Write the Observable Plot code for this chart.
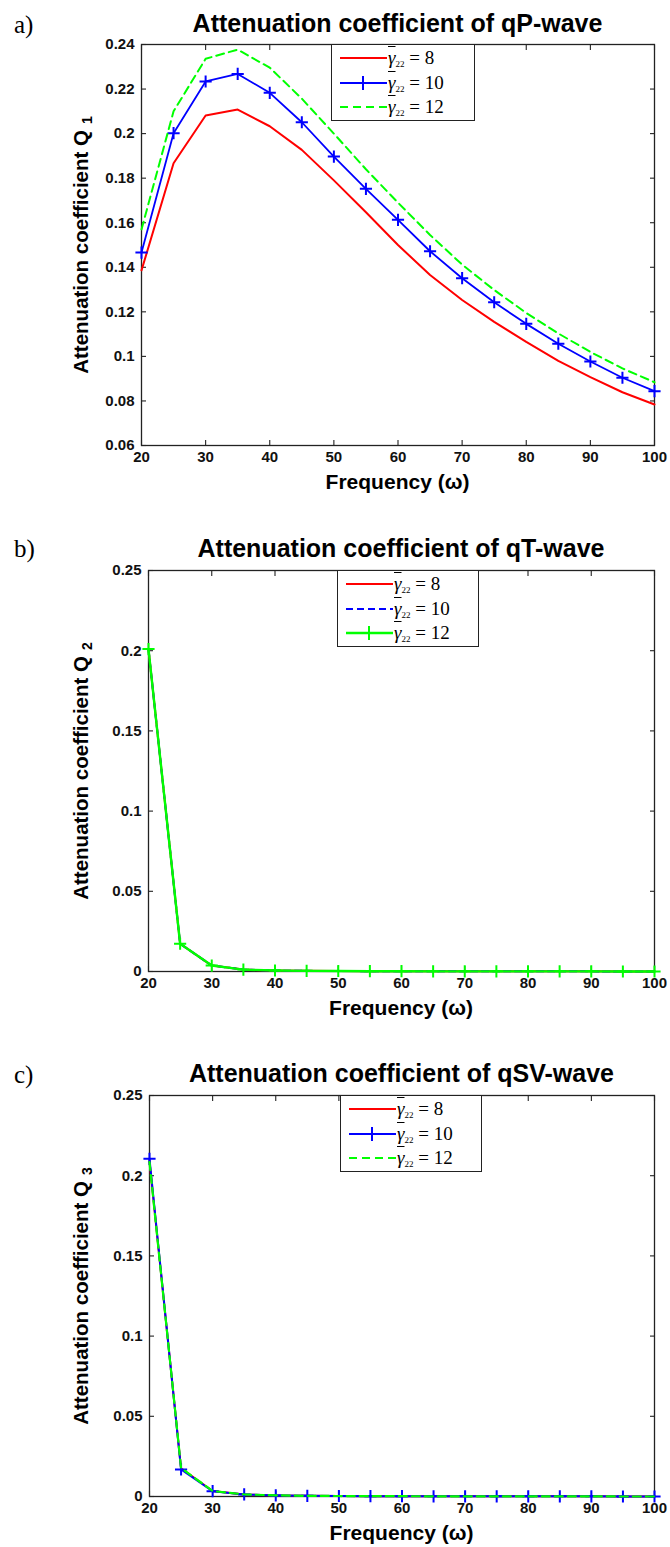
<!DOCTYPE html>
<html>
<head>
<meta charset="utf-8">
<script src="https://cdn.jsdelivr.net/npm/d3@7"></script>
<script src="https://cdn.jsdelivr.net/npm/@observablehq/plot@0.6"></script>
<style>
  html, body { margin:0; padding:0; background:#fff; }
  #root { position:relative; width:670px; height:1547px; overflow:hidden; background:#fff; font-family:"Liberation Sans", Arial, sans-serif; color:#000; }
  .abs { position:absolute; white-space:nowrap; }
  .title { font-weight:bold; font-size:25px; transform:translate(-50%,-50%); }
  .letter { font-family:"Liberation Serif", "Times New Roman", serif; font-size:25px; transform:translate(0,-50%); }
  .xlab { font-weight:bold; font-size:21px; transform:translate(-50%,-50%); }
  .ylab { font-weight:bold; font-size:20.5px; transform:translate(-50%,-50%) rotate(-90deg); }
  .ylab sub { font-size:14px; margin-left:6px; vertical-align:-4px; }
  .legend { border:1px solid #222; background:#fff; box-sizing:border-box; }
  .legend .row { position:absolute; left:0; transform:translateY(-50%); display:flex; align-items:center; }
  .legend .txt { font-family:"Liberation Serif", "DejaVu Serif", serif; font-size:19px; }
  .legend .g { text-decoration:overline; font-style:italic; }
  .legend sub { font-size:9px; vertical-align:-3px; }
</style>
</head>
<body>
<div id="root"></div>
<script>
// ---------------- data ----------------
const frequency = [20, 25, 30, 35, 40, 45, 50, 55, 60, 65, 70, 75, 80, 85, 90, 95, 100];
const gammaValues = ["8", "10", "12"];
const panelLetters = ["a)", "b)", "c)"];
const panelTitles = ["Attenuation coefficient of qP-wave", "Attenuation coefficient of qT-wave", "Attenuation coefficient of qSV-wave"];
const yAxisLabel = "Attenuation coefficient Q";
const yAxisSubs = ["1", "2", "3"];
const xAxisLabel = "Frequency (\u03c9)";
const xTicks = [20, 30, 40, 50, 60, 70, 80, 90, 100];
const yTicksA = [0.06, 0.08, 0.1, 0.12, 0.14, 0.16, 0.18, 0.2, 0.22, 0.24];
const yTicksBC = [0, 0.05, 0.1, 0.15, 0.2, 0.25];

// a) qP-wave
const qP_gamma8  = [0.1386, 0.1867, 0.2081, 0.2108, 0.2033, 0.1927, 0.1790, 0.1647, 0.1500, 0.1365, 0.1253, 0.1155, 0.1065, 0.0980, 0.0907, 0.0839, 0.0784];
const qP_gamma10 = [0.1466, 0.2002, 0.2234, 0.2268, 0.2183, 0.2051, 0.1897, 0.1752, 0.1613, 0.1472, 0.1351, 0.1243, 0.1146, 0.1057, 0.0977, 0.0904, 0.0844];
const qP_gamma12 = [0.1570, 0.2100, 0.2336, 0.2377, 0.2296, 0.2157, 0.2000, 0.1840, 0.1690, 0.1545, 0.1412, 0.1298, 0.1195, 0.1103, 0.1020, 0.0946, 0.0884];
// b) qT-wave
const qT_gamma8  = [0.2010, 0.0173, 0.0037, 0.0012, 0.0006, 0.0004, 0.0003, 0.0002, 0.0002, 0.0001, 0.0001, 0.0001, 0.0001, 0.0001, 0.0001, 0.0000, 0.0000];
const qT_gamma10 = [0.2010, 0.0173, 0.0037, 0.0012, 0.0006, 0.0004, 0.0003, 0.0002, 0.0002, 0.0001, 0.0001, 0.0001, 0.0001, 0.0001, 0.0001, 0.0000, 0.0000];
const qT_gamma12 = [0.2010, 0.0173, 0.0037, 0.0012, 0.0006, 0.0004, 0.0003, 0.0002, 0.0002, 0.0001, 0.0001, 0.0001, 0.0001, 0.0001, 0.0001, 0.0000, 0.0000];
// c) qSV-wave
const qSV_gamma8  = [0.2090, 0.0176, 0.0034, 0.0013, 0.0007, 0.0004, 0.0003, 0.0002, 0.0002, 0.0001, 0.0001, 0.0001, 0.0001, 0.0001, 0.0001, 0.0000, 0.0000];
const qSV_gamma10 = [0.2105, 0.0169, 0.0033, 0.0013, 0.0007, 0.0004, 0.0003, 0.0002, 0.0002, 0.0001, 0.0001, 0.0001, 0.0001, 0.0001, 0.0001, 0.0000, 0.0000];
const qSV_gamma12 = [0.2085, 0.0178, 0.0034, 0.0013, 0.0007, 0.0004, 0.0003, 0.0002, 0.0002, 0.0001, 0.0001, 0.0001, 0.0001, 0.0001, 0.0001, 0.0000, 0.0000];

// ---------------- styles / layout ----------------
const RED = "#ff0000", BLUE = "#0000ff", GREEN = "#00ff00";
const panels = [
  { idx: 0, yDomain: [0.06, 0.24], yTicks: yTicksA, top: 44, left: 141, right: 654, titleY: 23, letterY: 25,
    legend: { left: 331, right: 475 },
    series: [
      { values: qP_gamma8,  color: RED,   width: 2,   dash: null,  marker: false },
      { values: qP_gamma10, color: BLUE,  width: 1.8, dash: null,  marker: true },
      { values: qP_gamma12, color: GREEN, width: 2,   dash: "8,5", marker: false } ] },
  { idx: 1, yDomain: [0, 0.25], yTicks: yTicksBC, top: 570, left: 148, right: 654, titleY: 548, letterY: 549,
    legend: { left: 337, right: 479 },
    series: [
      { values: qT_gamma8,  color: RED,   width: 2,   dash: null,  marker: false },
      { values: qT_gamma10, color: BLUE,  width: 2,   dash: "7,4", marker: false },
      { values: qT_gamma12, color: GREEN, width: 2.4, dash: null,  marker: true } ] },
  { idx: 2, yDomain: [0, 0.25], yTicks: yTicksBC, top: 1095, left: 149, right: 654, titleY: 1073, letterY: 1075,
    legend: { left: 340, right: 482 },
    series: [
      { values: qSV_gamma8,  color: RED,   width: 2,   dash: null,  marker: false },
      { values: qSV_gamma10, color: BLUE,  width: 2,   dash: null,  marker: true },
      { values: qSV_gamma12, color: GREEN, width: 2.2, dash: "8,5", marker: false } ] }
];

const root = document.getElementById("root");
function addDiv(cls, html, x, y) {
  const d = document.createElement("div");
  d.className = "abs " + cls;
  d.innerHTML = html;
  d.style.left = x + "px";
  d.style.top = y + "px";
  root.appendChild(d);
  return d;
}

const FRAME_H = 401, MT = 10, MB = 32;

panels.forEach(p => {
  const rows = vals => frequency.map((f, i) => ({ f, v: vals[i] }));
  const tickOpts = { tickSize: 5, tickFormat: () => "", label: null, stroke: "#222", strokeWidth: 1.1 };
  const labelOpts = { tickSize: 0, label: null, fontSize: 15, fontWeight: "bold", fill: "#111", tickFormat: d => String(d) };
  const marks = [
    Plot.frame({ stroke: "#222", strokeWidth: 1.3 }),
    Plot.axisX(xTicks, { ...tickOpts, anchor: "bottom", dy: -5 }),
    Plot.axisX(xTicks, { ...tickOpts, anchor: "top", dy: 5 }),
    Plot.axisY(p.yTicks, { ...tickOpts, anchor: "left", dx: 5 }),
    Plot.axisY(p.yTicks, { ...tickOpts, anchor: "right", dx: -5 }),
    Plot.axisX(xTicks, { ...labelOpts, anchor: "bottom", tickPadding: 6 }),
    Plot.axisY(p.yTicks, { ...labelOpts, anchor: "left", tickPadding: 7 })
  ];
  p.series.forEach(s => {
    marks.push(Plot.line(rows(s.values), { x: "f", y: "v", stroke: s.color, strokeWidth: s.width, strokeDasharray: s.dash, strokeLinejoin: "round" }));
    if (s.marker) marks.push(Plot.dot(rows(s.values), { x: "f", y: "v", symbol: "plus", r: 4, stroke: s.color, strokeWidth: 2 }));
  });
  const svg = Plot.plot({
    width: 670, height: MT + FRAME_H + MB,
    marginTop: MT, marginBottom: MB, marginLeft: p.left, marginRight: 670 - p.right,
    x: { domain: [20, 100] },
    y: { domain: p.yDomain },
    style: { fontFamily: "'Liberation Sans', Arial, sans-serif", fontSize: "15px", background: "transparent", overflow: "visible" },
    marks
  });
  const holder = document.createElement("div");
  holder.className = "abs";
  holder.style.left = "0px";
  holder.style.top = (p.top - MT) + "px";
  holder.appendChild(svg);
  root.appendChild(holder);

  const cx = (p.left + p.right) / 2;
  addDiv("title", panelTitles[p.idx], cx, p.titleY);
  addDiv("letter", panelLetters[p.idx], 14, p.letterY);
  addDiv("xlab", xAxisLabel, cx, p.top + FRAME_H + 37);
  addDiv("ylab", yAxisLabel + "<sub>" + yAxisSubs[p.idx] + "</sub>", 82, p.top + FRAME_H / 2);

  // legend
  const lg = addDiv("legend", "", p.legend.left, p.top);
  lg.style.width = (p.legend.right - p.legend.left) + "px";
  lg.style.height = "77px";
  const rowY = [13, 38, 62];
  p.series.forEach((s, i) => {
    const r = document.createElement("div");
    r.className = "row";
    r.style.top = rowY[i] + "px";
    const dash = s.dash ? `stroke-dasharray="${s.dash}"` : "";
    const mk = s.marker ? `<path d="M31,1V15M24,8H38" stroke="${s.color}" stroke-width="2"/>` : "";
    r.innerHTML = `<svg width="56" height="16" style="display:block"><line x1="8" y1="8" x2="55" y2="8" stroke="${s.color}" stroke-width="${Math.max(2, s.width)}" ${dash}/>${mk}</svg>` +
      `<span class="txt"><span class="g">\u03b3</span><sub>22</sub> = ${gammaValues[i]}</span>`;
    lg.appendChild(r);
  });
});
</script>
</body>
</html>
